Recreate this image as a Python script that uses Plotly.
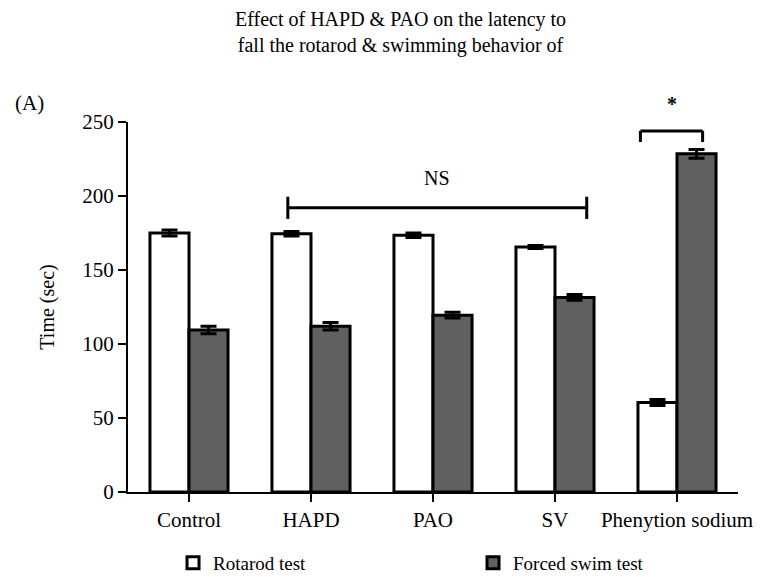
import plotly.graph_objects as go

categories = ["Control", "HAPD", "PAO", "SV", "Phenytion sodium"]
rotarod = [175, 174.5, 173.5, 165.5, 60.5]
rotarod_err = [2, 1.5, 1.5, 1, 2]
swim = [109.5, 112, 119.5, 131.5, 228.5]
swim_err = [2.5, 2.5, 2, 2, 3]
y_ticks = [0, 50, 100, 150, 200, 250]

FONT = "Liberation Serif, Times New Roman, serif"
xs = list(range(len(categories)))

fig = go.Figure()
fig.add_trace(go.Bar(
    x=xs, y=rotarod, name="Rotarod test", legend="legend", showlegend=True,
    marker=dict(color="white", line=dict(color="black", width=3)),
    error_y=dict(type="data", array=rotarod_err, color="black", thickness=3, width=8),
))
fig.add_trace(go.Bar(
    x=xs, y=swim, name="Forced swim test", legend="legend2", showlegend=True,
    marker=dict(color="#606060", line=dict(color="black", width=3)),
    error_y=dict(type="data", array=swim_err, color="black", thickness=3, width=8),
))

# NS bracket
ns_x0, ns_x1, ns_y = 0.81, 3.26, 192
fig.add_shape(type="line", x0=ns_x0, x1=ns_x1, y0=ns_y, y1=ns_y, xref="x", yref="y",
              line=dict(color="black", width=3))
for xv in (ns_x0, ns_x1):
    fig.add_shape(type="line", x0=xv, x1=xv, y0=ns_y - 7.5, y1=ns_y + 7.5, xref="x", yref="y",
                  line=dict(color="black", width=3))
fig.add_annotation(x=(ns_x0 + ns_x1) / 2, y=212, text="NS", showarrow=False,
                   xref="x", yref="y", font=dict(family=FONT, size=20, color="black"))

# * bracket
s_x0, s_x1, s_y = 3.70, 4.21, 244
fig.add_shape(type="line", x0=s_x0, x1=s_x1, y0=s_y, y1=s_y, xref="x", yref="y",
              line=dict(color="black", width=3))
for xv in (s_x0, s_x1):
    fig.add_shape(type="line", x0=xv, x1=xv, y0=s_y - 7.5, y1=s_y, xref="x", yref="y",
                  line=dict(color="black", width=3))
fig.add_annotation(x=(s_x0 + s_x1) / 2, y=1.0486, text="<b>*</b>", showarrow=False,
                   xref="x", yref="paper", yanchor="middle",
                   font=dict(family=FONT, size=20, color="black"))

fig.add_annotation(x=-0.1885, y=1.0514, xref="paper", yref="paper", text="(A)",
                   showarrow=False, xanchor="left", yanchor="middle",
                   font=dict(family=FONT, size=21, color="black"))

# Title as an annotation for precise placement
fig.add_annotation(x=(400 - 128) / 610, y=(492 - 6) / 370, xref="paper", yref="paper",
                   text="Effect of HAPD & PAO on the latency to<br>fall the rotarod & swimming behavior of",
                   showarrow=False, xanchor="center", yanchor="top",
                   font=dict(family=FONT, size=20, color="black"))

LEG_Y = (492 - 563) / 370

fig.update_layout(
    width=762, height=577, showlegend=True,
    margin=dict(l=128, r=24, t=122, b=85, autoexpand=False),
    paper_bgcolor="white", plot_bgcolor="white",
    barmode="group", bargap=0.36, bargroupgap=0,
    font=dict(family=FONT, size=21, color="black"),
    xaxis=dict(range=[-0.5, 4.5], tickvals=xs, ticktext=categories, automargin=False,
               showline=True, linecolor="black", linewidth=2,
               ticks="outside", ticklen=8, tickwidth=2, tickcolor="black",
               showgrid=False, zeroline=False, tickfont=dict(size=21)),
    yaxis=dict(range=[0, 250], tickvals=y_ticks, automargin=False,
               showline=True, linecolor="black", linewidth=2,
               ticks="outside", ticklen=8, tickwidth=2, tickcolor="black",
               showgrid=False, zeroline=False, tickfont=dict(size=21),
               title=dict(text="Time (sec)", font=dict(size=20), standoff=22)),
    legend=dict(orientation="h", x=0.0738, xanchor="left", y=LEG_Y, yanchor="middle",
                font=dict(family=FONT, size=19)),
    legend2=dict(orientation="h", x=0.5656, xanchor="left", y=LEG_Y, yanchor="middle",
                 font=dict(family=FONT, size=19)),
)

fig.write_html("out.html", config={"displayModeBar": False},
               post_script="document.body.style.margin='0px';")
